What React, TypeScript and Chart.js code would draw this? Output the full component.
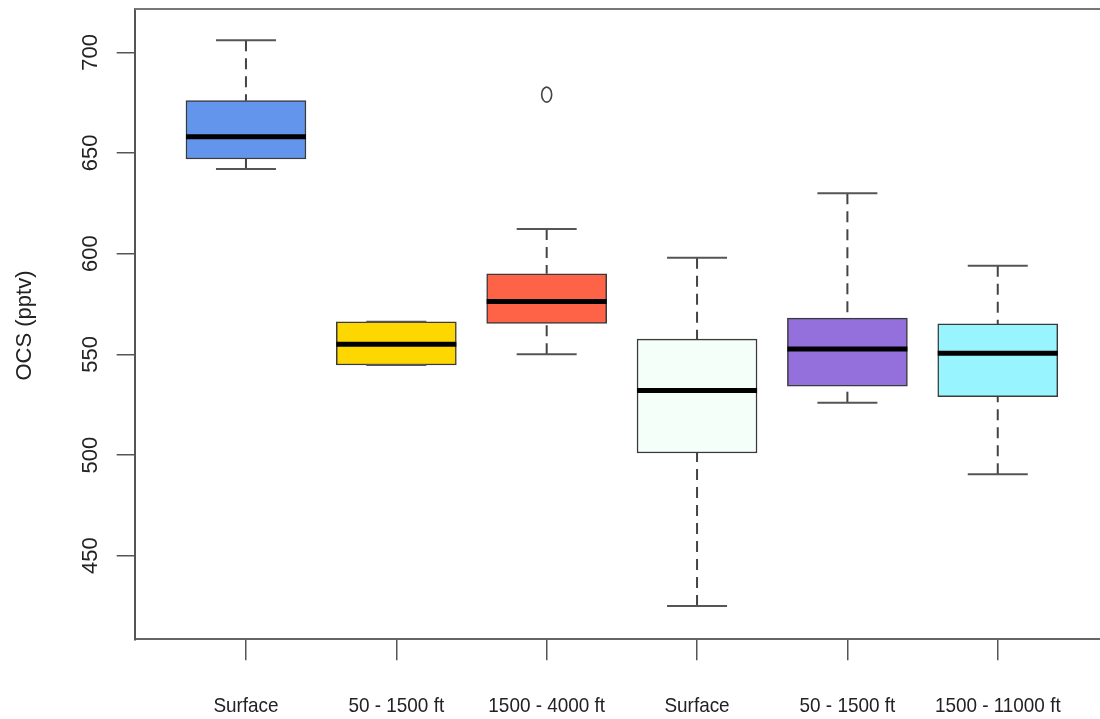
import React, { useEffect, useRef } from "react";
import { Chart, registerables } from "chart.js";

Chart.register(...registerables);

// Group labels along the x axis
const categories = [
  "Surface",
  "50 - 1500 ft",
  "1500 - 4000 ft",
  "Surface",
  "50 - 1500 ft",
  "1500 - 11000 ft",
];
// Five-number summaries of OCS (pptv) per group
const whiskerLow = [642, 544.7, 550, 425, 526, 490.5];
const quartile1 = [647, 544.7, 565.4, 501, 534.2, 529];
const medians = [658, 555, 576.2, 532, 552.6, 550.6];
const quartile3 = [676, 566.2, 590, 557.6, 568, 565.1];
const whiskerHigh = [706, 566.2, 612.3, 598, 630, 594];
// Points beyond the whiskers (group index, value)
const outlierGroups = [2];
const outlierValues = [679];
// Axis ticks
const yTicks = [450, 500, 550, 600, 650, 700];
const boxColors = ["#6495ED", "#FFD700", "#FF6347", "#F5FFFA", "#9370DB", "#98F5FF"];

const FONT = "'Liberation Sans', Arial, Helvetica, sans-serif";
const BOX_W = 120;
const CAP_W = 60;

const boxDecor = {
  id: "boxDecor",
  beforeDatasetsDraw(chart: any) {
    const { ctx, scales } = chart;
    const xs = scales.x;
    const ys = scales.y;
    ctx.save();
    ctx.strokeStyle = "#444";
    ctx.lineWidth = 2;
    ctx.setLineDash([11, 7]);
    categories.forEach((_, i) => {
      const x = xs.getPixelForValue(i + 1);
      ctx.beginPath();
      ctx.moveTo(x, ys.getPixelForValue(whiskerHigh[i]));
      ctx.lineTo(x, ys.getPixelForValue(quartile3[i]));
      ctx.stroke();
      ctx.beginPath();
      ctx.moveTo(x, ys.getPixelForValue(whiskerLow[i]));
      ctx.lineTo(x, ys.getPixelForValue(quartile1[i]));
      ctx.stroke();
    });
    ctx.restore();
  },
  afterDatasetsDraw(chart: any) {
    const { ctx, scales } = chart;
    const xs = scales.x;
    const ys = scales.y;
    ctx.save();
    // whisker caps
    ctx.strokeStyle = "#555";
    ctx.lineWidth = 2;
    categories.forEach((_, i) => {
      const x = xs.getPixelForValue(i + 1);
      [whiskerLow[i], whiskerHigh[i]].forEach((v) => {
        const y = ys.getPixelForValue(v);
        ctx.beginPath();
        ctx.moveTo(x - CAP_W / 2, y);
        ctx.lineTo(x + CAP_W / 2, y);
        ctx.stroke();
      });
    });
    // medians
    ctx.strokeStyle = "#000";
    ctx.lineWidth = 5;
    categories.forEach((_, i) => {
      const x = xs.getPixelForValue(i + 1);
      const y = ys.getPixelForValue(medians[i]);
      ctx.beginPath();
      ctx.moveTo(x - BOX_W / 2, y);
      ctx.lineTo(x + BOX_W / 2, y);
      ctx.stroke();
    });
    // outliers
    ctx.strokeStyle = "#444";
    ctx.lineWidth = 1.6;
    outlierGroups.forEach((g, k) => {
      const x = xs.getPixelForValue(g + 1);
      const y = ys.getPixelForValue(outlierValues[k]);
      ctx.beginPath();
      ctx.ellipse(x, y, 5, 7.5, 0, 0, Math.PI * 2);
      ctx.stroke();
    });
    ctx.restore();
  },
  afterDraw(chart: any) {
    const { ctx, scales, chartArea } = chart;
    const xs = scales.x;
    const ys = scales.y;
    ctx.save();
    // top frame line
    ctx.strokeStyle = "#777";
    ctx.lineWidth = 2;
    ctx.beginPath();
    ctx.moveTo(chartArea.left, chartArea.top);
    ctx.lineTo(chartArea.right, chartArea.top);
    ctx.stroke();

    ctx.fillStyle = "#222";
    // x tick labels
    ctx.font = `21px ${FONT}`;
    ctx.textAlign = "center";
    ctx.textBaseline = "alphabetic";
    categories.forEach((label, i) => {
      const x = xs.getPixelForValue(i + 1);
      ctx.save();
      ctx.translate(x, 712);
      ctx.scale(0.9, 1);
      ctx.fillText(label, 0, 0);
      ctx.restore();
    });
    // y tick labels, rotated
    ctx.font = `22px ${FONT}`;
    yTicks.forEach((v) => {
      const y = ys.getPixelForValue(v);
      ctx.save();
      ctx.translate(97, y);
      ctx.rotate(-Math.PI / 2);
      ctx.fillText(String(v), 0, 0);
      ctx.restore();
    });
    // y axis title
    ctx.font = `22px ${FONT}`;
    ctx.save();
    ctx.translate(31, 325.5);
    ctx.rotate(-Math.PI / 2);
    ctx.fillText("OCS (pptv)", 0, 0);
    ctx.restore();
    ctx.restore();
  },
};

export default function App() {
  const canvasRef = useRef<HTMLCanvasElement | null>(null);

  useEffect(() => {
    const canvas = canvasRef.current;
    if (!canvas) return;
    const chart = new Chart(canvas, {
      type: "bar",
      data: {
        datasets: [
          {
            data: categories.map((_, i) => ({ x: i + 1, y: [quartile1[i], quartile3[i]] })) as any,
            backgroundColor: boxColors,
            borderColor: "#3a3a3a",
            borderWidth: 1.5,
            borderSkipped: false,
            barThickness: BOX_W,
          },
        ],
      },
      options: {
        responsive: false,
        animation: false,
        devicePixelRatio: 1,
        layout: { padding: { top: 9, left: 0, right: 0, bottom: 0 } },
        plugins: {
          legend: { display: false },
          tooltip: { enabled: false },
          title: { display: false },
        },
        scales: {
          x: {
            type: "linear",
            offset: false,
            min: 0.26,
            max: 6.68,
            afterBuildTicks: (s: any) => {
              s.ticks = categories.map((_, i) => ({ value: i + 1 }));
            },
            afterFit: (s: any) => {
              s.height = 79.7;
            },
            ticks: { display: false },
            grid: {
              offset: false,
              drawOnChartArea: false,
              drawTicks: true,
              tickLength: 21,
              color: "#555",
              lineWidth: 1.5,
            },
            border: { display: true, color: "#666", width: 2 },
          },
          y: {
            type: "linear",
            min: 408.5,
            max: 721.5,
            afterBuildTicks: (s: any) => {
              s.ticks = yTicks.map((v) => ({ value: v }));
            },
            afterFit: (s: any) => {
              s.width = 134.7;
            },
            ticks: { display: false },
            grid: {
              drawOnChartArea: false,
              drawTicks: true,
              tickLength: 18,
              color: "#555",
              lineWidth: 1.5,
            },
            border: { display: true, color: "#555", width: 2 },
          },
        },
      },
      plugins: [boxDecor],
    });
    return () => chart.destroy();
  }, []);

  return (
    <div style={{ position: "fixed", left: 0, top: 0, width: 1100, height: 719, background: "#fff" }}>
      <canvas ref={canvasRef} width={1100} height={719} style={{ width: 1100, height: 719 }} />
    </div>
  );
}
